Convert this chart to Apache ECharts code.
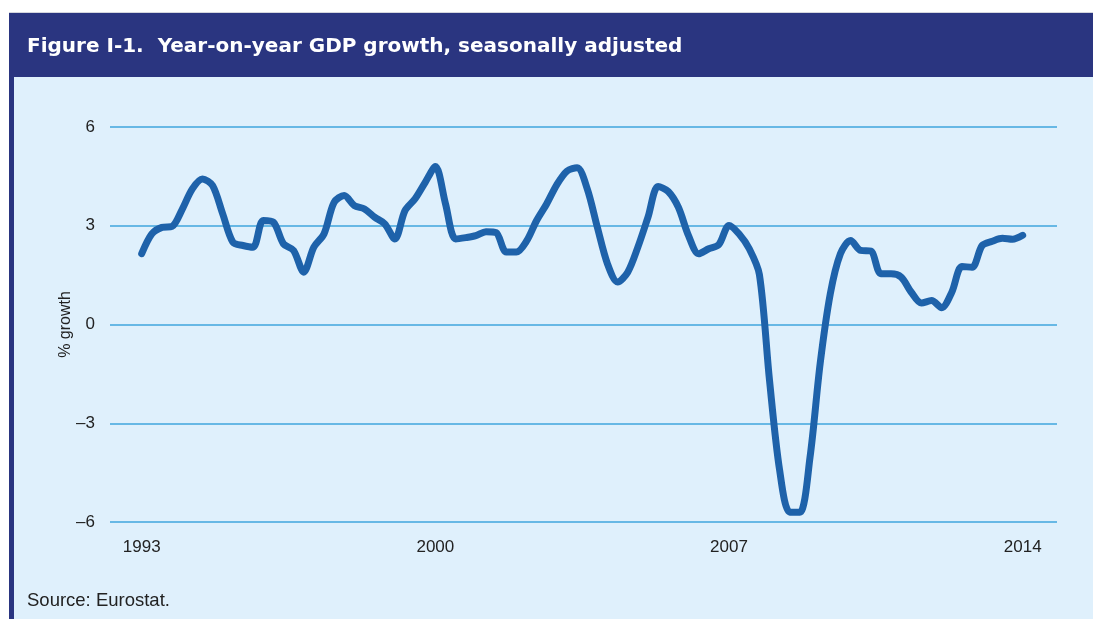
<!DOCTYPE html>
<html>
<head>
<meta charset="utf-8">
<script src="https://cdn.jsdelivr.net/npm/echarts@6/dist/echarts.min.js"></script>
<style>
  html, body { margin: 0; padding: 0; background: #ffffff; }
  #chart { width: 1093px; height: 619px; }
</style>
</head>
<body>
<div id="chart"></div>
<script>
// Quarterly year-on-year GDP growth (%), 1993 Q1 to 2014 Q4
const startYear = 1993;
const growth = [
  2.15, 2.75, 2.95, 2.98, 3.50, 4.12, 4.42, 4.22,
  3.36, 2.50, 2.40, 2.35, 3.16, 3.11, 2.45, 2.25,
  1.59, 2.35, 2.75, 3.71, 3.92, 3.61, 3.51, 3.26,
  3.06, 2.60, 3.46, 3.82, 4.32, 4.80, 3.67, 2.60,
  2.64, 2.70, 2.82, 2.79, 2.20, 2.20, 2.53, 3.16,
  3.67, 4.25, 4.66, 4.76, 4.12, 2.95, 1.84, 1.29,
  1.59, 2.35, 3.26, 4.19, 4.04, 3.56, 2.70, 2.15,
  2.30, 2.43, 3.01, 2.75, 2.30, 1.52, -1.70, -4.43,
  -5.70, -5.70, -4.03, -1.19, 0.93, 2.15, 2.55, 2.25,
  2.23, 1.54, 1.54, 1.44, 0.98, 0.65, 0.73, 0.51,
  0.98, 1.76, 1.74, 2.40, 2.53, 2.62, 2.59, 2.71
];
// Quarter names for each point
const quarters = growth.map((_, i) =>
  (startYear + Math.floor(i / 4)) + ' Q' + (i % 4 + 1));

// Horizontal axis labels and the points they sit under
const tickIndex = [0, 29, 58, 87];
const tickLabels = ['1993', '2000', '2007', '2014'];
// Vertical axis ticks
const yTicks = [-6, -3, 0, 3, 6];

const points = growth.map((v, i) => [i, v, quarters[i]]);

const FONT = '"Liberation Sans", Arial, Helvetica, sans-serif';
const TITLE_FONT = '"DejaVu Sans", "Liberation Sans", sans-serif';
const chart = echarts.init(document.getElementById('chart'), null, { renderer: 'canvas' });

chart.setOption({
  backgroundColor: '#ffffff',
  animation: false,
  graphic: {
    elements: [
      { type: 'rect', z: -10, silent: true,
        shape: { x: 9, y: 12, width: 1084, height: 1 },
        style: { fill: '#d4d6de' } },
      { type: 'rect', z: -10, silent: true,
        shape: { x: 9, y: 13, width: 1084, height: 64 },
        style: { fill: '#2a3580' } },
      { type: 'rect', z: -10, silent: true,
        shape: { x: 9, y: 77, width: 5, height: 542 },
        style: { fill: '#2a3580' } },
      { type: 'rect', z: -10, silent: true,
        shape: { x: 14, y: 77, width: 1079, height: 542 },
        style: { fill: '#dff0fc' } }
    ]
  },
  title: [
    {
      text: 'Figure I-1.  Year-on-year GDP growth, seasonally adjusted',
      left: 27, top: 37, padding: 0,
      textStyle: { color: '#ffffff', fontFamily: TITLE_FONT, fontWeight: 'bold', fontSize: 20 }
    },
    {
      text: 'Source: Eurostat.',
      left: 27, top: 591, padding: 0,
      textStyle: { color: '#222222', fontFamily: FONT, fontWeight: 'normal', fontSize: 18.5 }
    }
  ],
  grid: { left: 110, right: 36, top: 127, bottom: 97 },
  xAxis: {
    type: 'value',
    min: -3.13,
    max: 90.39,
    axisLine: { show: false },
    axisTick: { show: false },
    splitLine: { show: false },
    axisLabel: {
      customValues: tickIndex,
      formatter: v => tickLabels[tickIndex.indexOf(v)] || '',
      color: '#222222',
      fontFamily: FONT,
      fontSize: 17,
      margin: 17
    }
  },
  yAxis: {
    type: 'value',
    min: yTicks[0],
    max: yTicks[yTicks.length - 1],
    interval: 3,
    name: '% growth',
    nameLocation: 'middle',
    nameGap: 36,
    nameMoveOverlap: false,
    nameTextStyle: { color: '#222222', fontFamily: FONT, fontSize: 16 },
    axisLine: { show: false },
    axisTick: { show: false },
    axisLabel: {
      formatter: v => (v < 0 ? '\u2013' + Math.abs(v) : String(v)),
      color: '#222222',
      fontFamily: FONT,
      fontSize: 17,
      margin: 15
    },
    splitLine: { lineStyle: { color: '#3fa6de', width: 1.5 } }
  },
  series: [{
    type: 'line',
    data: points,
    encode: { x: 0, y: 1 },
    showSymbol: false,
    smooth: 0.3,
    lineStyle: { color: '#1e62aa', width: 7, cap: 'round', join: 'round' }
  }]
});
</script>
</body>
</html>
